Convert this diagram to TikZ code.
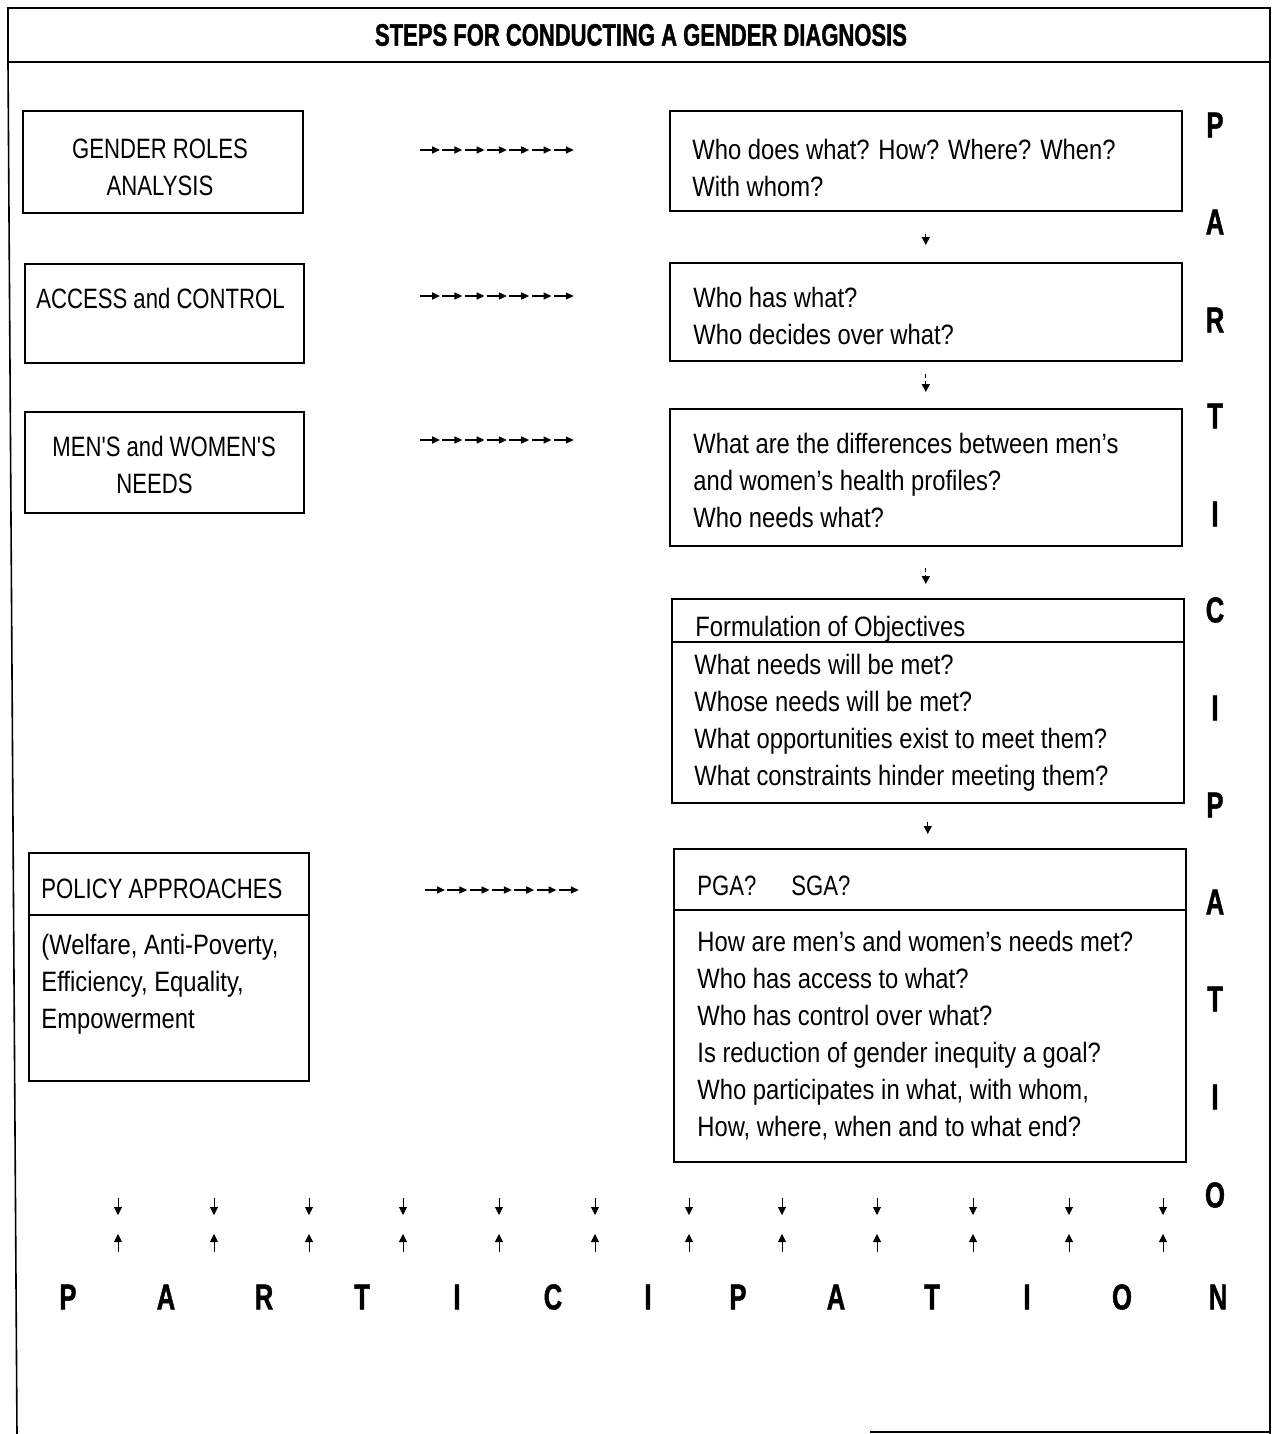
\documentclass[tikz,border=0pt]{standalone}
\usepackage{fontspec}
\setmainfont[FakeStretch=0.85]{Liberation Sans}
\newfontfamily\capsfont[FakeStretch=0.79]{Liberation Sans}
\newfontfamily\headfont[FakeStretch=0.71,BoldFeatures={FakeBold=1.2}]{Liberation Sans}
\usetikzlibrary{arrows.meta}

\tikzset{
  box/.style={draw, line width=0.8pt, anchor=north west, inner sep=0pt},
  txt/.style={anchor=north west, inner sep=0pt, align=left,
    font=\fontsize{14}{18.5}\selectfont},
  capstxt/.style={txt, font=\capsfont\fontsize{14}{18.5}\selectfont},
  chain/.style={-{Triangle[length=4pt,width=3.5pt]}, line width=0.8pt},
  stepdown/.style={-{Triangle[length=4pt,width=4pt]}, line width=0.6pt,
    dash pattern=on 2pt off 1.5pt},
  pairtip/.style={-{Triangle[length=4pt,width=4pt]}, line width=0.4pt},
  bigletter/.style={font=\headfont\bfseries\fontsize{18}{18}\selectfont,
    inner sep=0pt}
}

\begin{document}
\begin{tikzpicture}[x=0.5pt, y=-0.5pt]

  \useasboundingbox (0,0) rectangle (1277,1434);

  % frame and title
  \draw[line width=0.8pt] (8,8) rectangle (1270,62);
  \node[font=\headfont\bfseries\fontsize{15.5}{15.5}\selectfont] (title) at (641,35)
    {STEPS FOR CONDUCTING A GENDER DIAGNOSIS};
  \draw[line width=0.8pt] (8,62) -- (17,1434);
  \draw[line width=0.8pt] (1270,62) -- (1270,1434);
  \draw[line width=0.8pt] (870,1432) -- (1270,1432);

  % left column
  \node[box, minimum width=140pt, minimum height=51pt] (roles) at (22,110) {};
  \node[capstxt, anchor=north, align=center] (rolest) at (160,139)
    {GENDER ROLES\\ANALYSIS};

  \node[box, minimum width=139.5pt, minimum height=49.5pt] (access) at (24,263) {};
  \node[capstxt] (accesst) at (36,288) {ACCESS and CONTROL};

  \node[box, minimum width=139.5pt, minimum height=50.5pt] (needs) at (24,411) {};
  \node[capstxt] (needst) at (52,436) {MEN'S and WOMEN'S\\\hspace*{32pt}NEEDS};

  \node[box, minimum width=140pt, minimum height=114pt] (policy) at (28,852) {};
  \draw[line width=0.8pt] (policy.west |- 0,915) -- (policy.east |- 0,915);
  \node[capstxt] (policyh) at (41,879) {POLICY APPROACHES};
  \node[txt] (policyt) at (41,934)
    {(Welfare, Anti-Poverty,\\Efficiency, Equality,\\Empowerment};

  % right column
  \node[box, minimum width=256pt, minimum height=50pt] (who) at (669,110) {};
  \node[txt] (whot) at (692,139)
    {Who does what? How? Where? When?\\With whom?};

  \node[box, minimum width=256pt, minimum height=49pt] (has) at (669,262) {};
  \node[txt] (hast) at (693,287) {Who has what?\\Who decides over what?};

  \node[box, minimum width=256pt, minimum height=68.5pt] (diff) at (669,408) {};
  \node[txt] (difft) at (693,433)
    {What are the differences between men's\\and women's health profiles?\\Who needs what?};

  \node[box, minimum width=256pt, minimum height=102pt] (obj) at (671,598) {};
  \draw[line width=0.8pt] (obj.west |- 0,642) -- (obj.east |- 0,642);
  \node[txt] (objh) at (695,616) {Formulation of Objectives};
  \node[txt] (objt) at (694,654)
    {What needs will be met?\\Whose needs will be met?\\What opportunities exist to meet them?\\What constraints hinder meeting them?};

  \node[box, minimum width=256pt, minimum height=156.5pt] (pga) at (673,848) {};
  \draw[line width=0.8pt] (pga.west |- 0,910) -- (pga.east |- 0,910);
  \node[capstxt] (pgah) at (697,876) {\makebox[47pt][l]{PGA?}SGA?};
  \node[txt] (pgat) at (697,931)
    {How are men's and women's needs met?\\Who has access to what?\\Who has control over what?\\Is reduction of gender inequity a goal?\\Who participates in what, with whom,\\How, where, when and to what end?};

  % dotted chains
  \coordinate (c1) at (420,150);
  \coordinate (c2) at (420,296);
  \coordinate (c3) at (420,440);
  \coordinate (c4) at (425,890);
  \foreach \c in {c1,c2,c3,c4}
    \foreach \k in {0,...,6}
      \draw[chain] ([xshift=\k*11.15pt]\c) -- ++(20,0);

  % steps down the right column
  \draw[stepdown, shorten <=11pt, shorten >=8.5pt] (who.south) -- (who.south |- has.north);
  \draw[stepdown, shorten <=6pt, shorten >=8pt] (has.south) -- (has.south |- diff.north);
  \draw[stepdown, shorten <=10.5pt, shorten >=7pt] (diff.south) -- (diff.south |- obj.north);
  \draw[stepdown, shorten <=9pt, shorten >=7pt] (obj.south) -- (obj.south |- pga.north);

  % arrow pairs
  \foreach \x [count=\i] in {118,214,309,403,499,595,689,782,877,973,1069,1163} {
    \coordinate (d\i) at (\x,1198);
    \coordinate (u\i) at (\x,1252);
    \draw[pairtip] (d\i) -- ++(0,17);
    \draw[pairtip] (u\i) -- ++(0,-18);
  }

  % participation
  \foreach \l/\y [count=\i] in {P/125,A/222,R/320,T/416,I/514,C/610,I/708,P/805,A/902,T/999,I/1097,O/1195}
    \node[bigletter] (s\i) at (1215,\y) {\l};
  \foreach \l/\x [count=\i] in {P/68,A/166,R/264,T/362,I/457,C/553,I/648,P/738,A/836,T/932,I/1027,O/1122,N/1218}
    \node[bigletter] (b\i) at (\x,1297) {\l};

\end{tikzpicture}
\end{document}
